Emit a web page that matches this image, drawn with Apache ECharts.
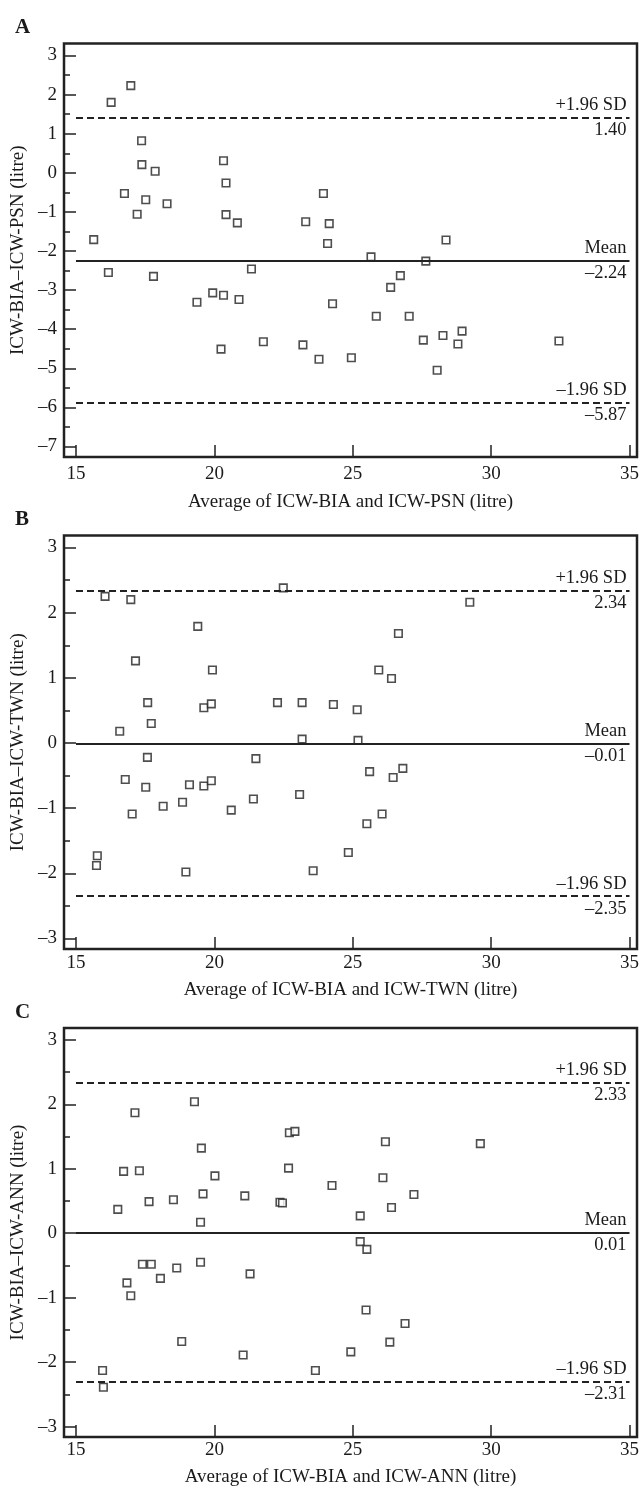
<!DOCTYPE html>
<html>
<head>
<meta charset="utf-8">
<script src="https://cdn.jsdelivr.net/npm/echarts@6/dist/echarts.min.js"></script>
<style>
html,body{margin:0;padding:0;background:#fff;}
#chart{width:642px;height:1488px;}
</style>
</head>
<body>
<div id="chart"></div>
<script>
// ---------- data ----------
const panelLetters = ['A', 'B', 'C'];
const xTitles = ['Average of ICW-BIA and ICW-PSN (litre)', 'Average of ICW-BIA and ICW-TWN (litre)', 'Average of ICW-BIA and ICW-ANN (litre)'];
const yTitles = ['ICW-BIA\u2013ICW-PSN (litre)', 'ICW-BIA\u2013ICW-TWN (litre)', 'ICW-BIA\u2013ICW-ANN (litre)'];
const xTicks = [15, 20, 25, 30, 35];
const yTicksA = [-7, -6, -5, -4, -3, -2, -1, 0, 1, 2, 3];
const yTicksBC = [-3, -2, -1, 0, 1, 2, 3];
const lineLabels = ['+1.96 SD', 'Mean', '\u20131.96 SD'];

const aX = [15.64,16.27,16.98,17.37,17.38,17.86,16.75,17.52,17.21,18.29,20.33,20.42,20.42,20.83,23.94,23.30,24.15,24.09,28.37,16.17,17.80,21.34,25.66,27.64,26.72,26.37,19.37,19.94,20.33,20.89,24.27,25.85,27.04,20.24,21.77,23.20,23.78,24.95,27.55,28.26,28.95,28.80,28.05,32.45];
const aY = [-1.71,1.80,2.23,0.82,0.21,0.04,-0.53,-0.69,-1.06,-0.79,0.31,-0.26,-1.07,-1.28,-0.53,-1.25,-1.30,-1.81,-1.72,-2.55,-2.65,-2.46,-2.15,-2.26,-2.63,-2.93,-3.31,-3.07,-3.13,-3.24,-3.35,-3.67,-3.67,-4.51,-4.32,-4.40,-4.77,-4.73,-4.28,-4.16,-4.05,-4.38,-5.05,-4.30];
const aLines = [1.40, -2.24, -5.87];

const bX = [16.05,16.98,22.49,29.23,19.40,17.15,19.93,25.94,26.40,26.65,17.59,19.62,19.89,22.28,23.17,24.30,25.16,16.58,17.72,23.17,25.19,17.58,21.50,16.78,17.52,19.10,19.62,19.89,25.61,26.46,26.81,23.08,21.41,18.85,18.15,20.61,17.03,26.06,25.51,24.84,15.77,15.74,18.97,23.57];
const bY = [2.25,2.20,2.38,2.16,1.79,1.26,1.12,1.12,0.99,1.68,0.62,0.54,0.60,0.62,0.62,0.59,0.51,0.18,0.30,0.06,0.04,-0.22,-0.24,-0.56,-0.68,-0.64,-0.66,-0.58,-0.44,-0.53,-0.39,-0.79,-0.86,-0.91,-0.97,-1.03,-1.09,-1.09,-1.24,-1.68,-1.73,-1.88,-1.98,-1.96];
const bLines = [2.34, -0.01, -2.35];

const cX = [19.28,17.13,22.71,22.91,26.18,29.61,19.53,22.68,16.72,17.29,20.02,26.09,24.25,27.21,19.59,21.10,17.64,18.52,22.37,22.46,16.51,26.40,25.27,19.50,25.27,25.51,17.40,17.72,19.50,18.64,21.29,18.05,16.84,16.98,25.48,26.89,18.82,26.34,24.93,21.04,15.96,23.65,15.99];
const cY = [2.04,1.87,1.56,1.58,1.42,1.39,1.32,1.01,0.96,0.97,0.89,0.86,0.74,0.60,0.61,0.58,0.49,0.52,0.48,0.47,0.37,0.40,0.27,0.17,-0.13,-0.25,-0.48,-0.48,-0.45,-0.54,-0.63,-0.70,-0.77,-0.97,-1.19,-1.40,-1.68,-1.69,-1.84,-1.89,-2.13,-2.13,-2.39];
const cLines = [2.33, 0.01, -2.31];

// ---------- layout ----------
const FONT = 'Liberation Serif';
const INK = '#1a1a1a';
const frameLeft = 64, frameRight = 637;
const frameTops = [43.5, 535.5, 1028];
const frameH = 413.5;
const padL = 12, padR = 7.5, padT = 12, padB = 10.5;   // px between frame and first/last tick
const labelMargins = [8, 4.5, 3.5];
const nameGaps = [36, 32, 31];

const panels = [
  {x: aX, y: aY, lines: aLines, yTicks: yTicksA},
  {x: bX, y: bY, lines: bLines, yTicks: yTicksBC},
  {x: cX, y: cY, lines: cLines, yTicks: yTicksBC}
];

const fmtTick = v => (v < 0 ? '\u2013' + (-v) : '' + v);
const fmtVal = v => (v < 0 ? '\u2013' : '') + Math.abs(v).toFixed(2);

const option = {
  backgroundColor: '#fff',
  animation: false,
  title: [], grid: [], xAxis: [], yAxis: [], series: []
};

panels.forEach((p, i) => {
  const gw = frameRight - frameLeft;
  const x0 = xTicks[0], x1 = xTicks[xTicks.length - 1];
  const ux = (gw - padL - padR) / (x1 - x0);
  const y0 = p.yTicks[0], y1 = p.yTicks[p.yTicks.length - 1];
  const uy = (frameH - padT - padB) / (y1 - y0);
  const minor = [];
  for (let k = 0; k < p.yTicks.length - 1; k++) minor.push(p.yTicks[k] + 0.5);

  option.title.push({
    text: panelLetters[i], left: 10, top: frameTops[i] - 31,
    textStyle: {fontFamily: FONT, fontWeight: 'bold', fontSize: 21, color: INK}
  });
  option.grid.push({
    left: frameLeft, width: gw, top: frameTops[i], height: frameH,
    show: true, borderColor: '#222', borderWidth: 2.5, backgroundColor: 'transparent'
  });
  option.xAxis.push({
    type: 'value', gridIndex: i, position: 'bottom',
    min: x0 - padL / ux, max: x1 + padR / ux,
    axisLine: {show: false, onZero: false},
    splitLine: {show: false},
    axisTick: {show: true, inside: true, length: 12, customValues: xTicks, lineStyle: {color: '#222', width: 1.5}},
    axisLabel: {customValues: xTicks, formatter: fmtTick, margin: labelMargins[i], fontFamily: FONT, fontSize: 19, color: INK},
    name: xTitles[i], nameLocation: 'middle', nameGap: nameGaps[i],
    nameTextStyle: {fontFamily: FONT, fontSize: 19, color: INK}
  });
  const yMin = y0 - padB / uy, yMax = y1 + padT / uy;
  option.yAxis.push({
    type: 'value', gridIndex: i, position: 'left', min: yMin, max: yMax,
    axisLine: {show: false, onZero: false},
    splitLine: {show: false},
    axisTick: {show: true, inside: true, length: 12, customValues: p.yTicks, lineStyle: {color: '#222', width: 1.5}},
    axisLabel: {customValues: p.yTicks, formatter: fmtTick, margin: 7, fontFamily: FONT, fontSize: 19, color: INK},
    name: yTitles[i], nameLocation: 'middle', nameGap: 32, nameRotate: 90,
    nameTextStyle: {fontFamily: FONT, fontSize: 19, color: INK}
  });
  option.yAxis.push({
    type: 'value', gridIndex: i, position: 'left', offset: 0, min: yMin, max: yMax,
    axisLine: {show: false, onZero: false}, splitLine: {show: false},
    axisLabel: {show: false},
    axisTick: {show: true, inside: true, length: 6, customValues: minor, lineStyle: {color: '#222', width: 1.5}}
  });

  const mlData = [];
  p.lines.forEach((v, k) => {
    const ls = {color: '#222', width: 2, type: k === 1 ? 'solid' : [7, 4]};
    const lab = {fontFamily: FONT, fontSize: 18.5, color: INK, distance: 3};
    mlData.push([
      {coord: [x0, v], lineStyle: ls, label: Object.assign({show: true, position: 'insideEndTop', formatter: lineLabels[k]}, lab)},
      {coord: [x1, v]}
    ]);
    mlData.push([
      {coord: [x0, v], lineStyle: {color: 'rgba(0,0,0,0)', width: 0}, label: Object.assign({show: true, position: 'insideEndBottom', formatter: fmtVal(v)}, lab)},
      {coord: [x1, v]}
    ]);
  });

  option.series.push({
    type: 'scatter', xAxisIndex: i, yAxisIndex: 2 * i,
    data: p.x.map((xv, k) => [xv, p.y[k]]),
    symbol: 'rect', symbolSize: 7.5,
    itemStyle: {color: '#fff', borderColor: '#222', borderWidth: 1.6},
    silent: true, z: 3,
    markLine: {symbol: ['none', 'none'], silent: true, animation: false, data: mlData}
  });
});

const chart = echarts.init(document.getElementById('chart'), null, {renderer: 'canvas'});
chart.setOption(option);
</script>
</body>
</html>
